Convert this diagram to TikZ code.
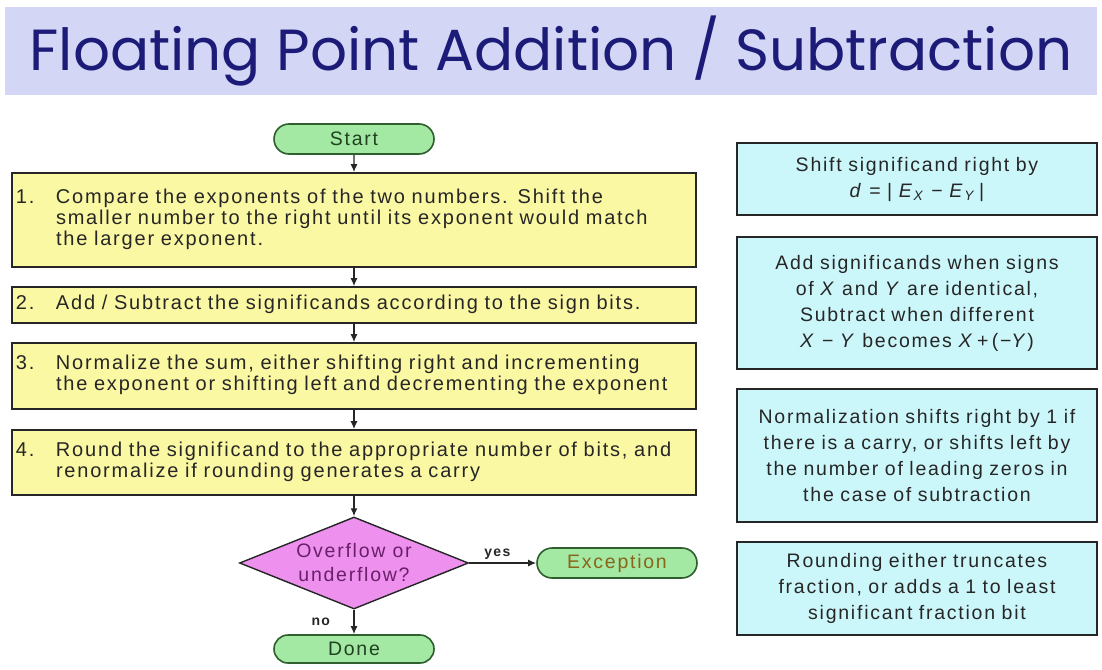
\documentclass[tikz,border=0pt]{standalone}
\usepackage{fontspec}
\setmainfont[LetterSpace=9]{Liberation Sans}
\newfontfamily\titlefont{Poppins}
\usetikzlibrary{arrows.meta,positioning,shapes.geometric,shapes.misc}
\definecolor{band}{HTML}{D3D6F5}
\definecolor{navy}{HTML}{1C1C78}
\definecolor{stepfill}{HTML}{FBF8A3}
\definecolor{notefill}{HTML}{CCF7FA}
\definecolor{pillfill}{HTML}{A3E8A3}
\definecolor{pilledge}{HTML}{2F5E2F}
\definecolor{decfill}{HTML}{EE90EE}
\definecolor{dectext}{HTML}{6A1F6A}
\definecolor{ink}{HTML}{262626}
\definecolor{exctext}{HTML}{8A6418}
\tikzset{stepbox/.style={draw=ink,fill=stepfill,line width=1.6pt,align=left,text width=676pt,
 inner xsep=4pt,font=\fontsize{20}{21}\selectfont,text=ink},
 notebox/.style={draw=ink,fill=notefill,line width=1.6pt,align=center,text width=350pt,
 inner xsep=5pt,font=\fontsize{19.5}{26}\selectfont,text=ink},
 pill/.style={rounded rectangle,draw=pilledge,fill=pillfill,line width=1.6pt,minimum width=160pt,
 minimum height=30pt,inner sep=0pt,font=\fontsize{19.5}{21}\selectfont,text=pilledge!70!black},
 decision/.style={diamond,shape aspect=2.5,draw=ink,fill=decfill,line width=1.4pt,minimum width=229pt,
 minimum height=92pt,inner sep=0pt,align=center,font=\fontsize{19.5}{24}\selectfont,text=dectext},
 flowarrow/.style={-{Latex[length=8pt,width=7pt]},draw=ink,line width=1.4pt},
 flowlabel/.style={font=\fontsize{14}{16}\selectfont\bfseries,text=ink}}
\newcommand\steptext[2]{\begin{tabular}{@{}p{40pt}@{}l@{}}#1&#2\end{tabular}}

\begin{document}
\begin{tikzpicture}[x=1pt,y=-1pt]
\useasboundingbox (0,0) rectangle (1102,669);
\node[fill=band,minimum width=1092pt,minimum height=88pt,text=navy,
 font=\titlefont\fontsize{58}{60}\selectfont] (title) at (551,51) {Floating Point Addition / Subtraction};
\node[pill] (start) at (354,139) {Start};
\node[stepbox,minimum height=94pt] (cmp) at (354,220) {\steptext{1.}{Compare the exponents of the two numbers. Shift the\\
 &smaller number to the right until its exponent would match\\ &the larger exponent.}};
\node[stepbox,minimum height=36pt] (add) at (354,305) {\steptext{2.}{Add / Subtract the significands according to the sign bits.}};
\node[stepbox,minimum height=66pt] (norm) at (354,376) {\steptext{3.}{Normalize the sum, either shifting right and incrementing\\
 &the exponent or shifting left and decrementing the exponent}};
\node[stepbox,minimum height=65pt] (round) at (354,462.5) {\steptext{4.}{Round the significand to the appropriate number of bits, and\\
 &renormalize if rounding generates a carry}};
\node[decision] (ovf) at (354,563) {Overflow or\\underflow?};
\node[pill,text=exctext] (exc) at (617,563) {Exception};
\node[pill,minimum height=28pt] (done) at (354,649) {Done};
\node[notebox,minimum height=72pt] (shiftnote) at (917,179) {Shift significand right by\\
 \textit{d} = | \textit{E}\textsubscript{\textit{X}} − \textit{E}\textsubscript{\textit{Y}}\,|};
\node[notebox,minimum height=132pt] (signnote) at (917,303) {Add significands when signs\\
 of \textit{X} and \textit{Y} are identical,\\ Subtract when different\\
 \textit{X} − \textit{Y} becomes \textit{X}\,+\,(−\textit{Y})};
\node[notebox,minimum height=133pt] (normnote) at (917,455.5) {Normalization shifts right by 1 if\\
 there is a carry, or shifts left by\\ the number of leading zeros in\\ the case of subtraction};
\node[notebox,minimum height=93pt] (roundnote) at (917,588.5) {Rounding either truncates\\
 fraction, or adds a 1 to least\\ significant fraction bit};
\draw[flowarrow] (start)--(cmp);
\draw[flowarrow] (cmp)--(add);
\draw[flowarrow] (add)--(norm);
\draw[flowarrow] (norm)--(round);
\draw[flowarrow] (round)--(ovf);
\draw[flowarrow] (ovf)--node[flowlabel,above,pos=0.42]{yes}(exc);
\draw[flowarrow] (ovf)--node[flowlabel,left,xshift=-20pt]{no}(done);
\end{tikzpicture}
\end{document}
